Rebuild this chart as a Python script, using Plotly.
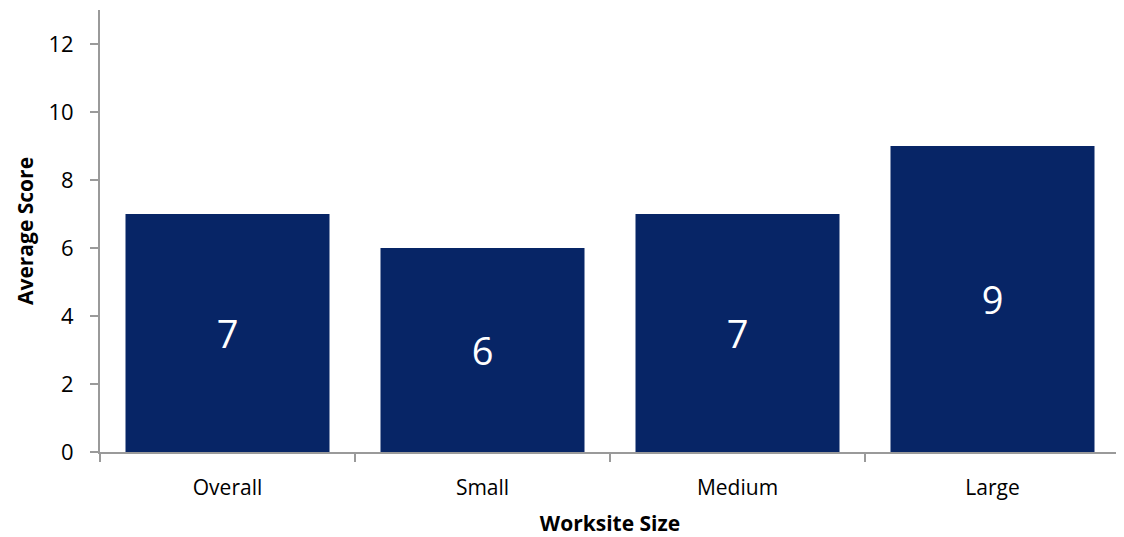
import plotly.graph_objects as go

categories = ["Overall", "Small", "Medium", "Large"]
scores = [7, 6, 7, 9]
y_ticks = [0, 2, 4, 6, 8, 10, 12]

FONT = "Open Sans, Lato, sans-serif"

fig = go.Figure(
    go.Bar(
        x=categories,
        y=scores,
        marker=dict(color="#072566", line=dict(width=0)),
        text=[str(v) for v in scores],
        textposition="inside",
        insidetextanchor="middle",
        textfont=dict(color="white", size=38, family=FONT),
        cliponaxis=False,
    )
)

fig.update_layout(
    width=1116,
    height=529,
    margin=dict(l=92, r=4, t=2, b=85),
    paper_bgcolor="white",
    plot_bgcolor="white",
    bargap=0.2,
    showlegend=False,
    font=dict(family=FONT, color="black"),
)

fig.update_xaxes(
    automargin=False,
    showline=True,
    linecolor="#9a9a9a",
    linewidth=2,
    ticks="outside",
    tickson="boundaries",
    ticklen=8,
    tickcolor="#9a9a9a",
    tickwidth=2,
    ticklabelstandoff=16,
    tickfont=dict(size=21, family=FONT),
    title=dict(text="<b>Worksite Size</b>", font=dict(size=21, family=FONT), standoff=20),
    showgrid=False,
)

fig.update_yaxes(
    automargin=False,
    range=[0, 13],
    tickvals=y_ticks,
    showline=True,
    linecolor="#9a9a9a",
    linewidth=2,
    ticks="outside",
    ticklen=8,
    tickcolor="#9a9a9a",
    tickwidth=2,
    ticklabelstandoff=12,
    tickfont=dict(size=22, family=FONT),
    title=dict(text="<b>Average Score</b>", font=dict(size=21, family=FONT), standoff=9),
    showgrid=False,
    zeroline=False,
)

fig.write_html("out.html")
